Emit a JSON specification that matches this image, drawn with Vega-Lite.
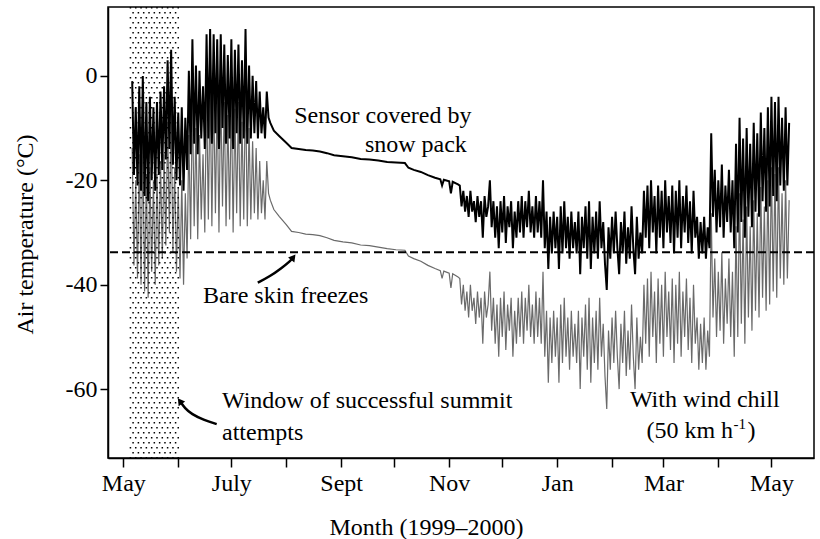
{
"$schema":"https://vega.github.io/schema/vega-lite/v6.json",
"width":706,"height":451,
"autosize":{"type":"none"},
"padding":{"left":108,"top":7,"right":6,"bottom":81},
"background":"white",
"config":{
 "font":"Liberation Serif",
 "view":{"stroke":"black","strokeWidth":1.5},
 "axis":{"domainColor":"black","domainWidth":1.5,"tickColor":"black","tickWidth":1.5,"labelColor":"black","titleColor":"black","labelFont":"Liberation Serif","titleFont":"Liberation Serif","labelFontSize":24,"titleFontSize":24,"titleFontWeight":"normal","grid":false}
},
"datasets":{
"temps":[
{"date":"1999-05-06","air":-1,"chill":-13.8},
{"date":"1999-05-07","air":-19,"chill":-36.3},
{"date":"1999-05-08","air":-6,"chill":-20},
{"date":"1999-05-09","air":-21,"chill":-38.8},
{"date":"1999-05-10","air":-2,"chill":-15},
{"date":"1999-05-11","air":-22,"chill":-40},
{"date":"1999-05-12","air":0,"chill":-12.5},
{"date":"1999-05-13","air":-23,"chill":-41.3},
{"date":"1999-05-14","air":-5,"chill":-18.8},
{"date":"1999-05-15","air":-24,"chill":-42.5},
{"date":"1999-05-16","air":-4,"chill":-17.5},
{"date":"1999-05-17","air":-20,"chill":-37.5},
{"date":"1999-05-18","air":-6,"chill":-20},
{"date":"1999-05-19","air":-22,"chill":-40},
{"date":"1999-05-20","air":-5,"chill":-18.8},
{"date":"1999-05-21","air":-19,"chill":-36.3},
{"date":"1999-05-22","air":-3,"chill":-16.3},
{"date":"1999-05-23","air":-18,"chill":-35},
{"date":"1999-05-24","air":-2,"chill":-15},
{"date":"1999-05-25","air":-16,"chill":-32.5},
{"date":"1999-05-26","air":3,"chill":-8.8},
{"date":"1999-05-27","air":-14,"chill":-30},
{"date":"1999-05-28","air":5,"chill":-6.3},
{"date":"1999-05-29","air":-17,"chill":-33.8},
{"date":"1999-05-30","air":-4,"chill":-17.5},
{"date":"1999-05-31","air":-20,"chill":-37.5},
{"date":"1999-06-01","air":-7,"chill":-21.3},
{"date":"1999-06-02","air":-21,"chill":-38.8},
{"date":"1999-06-03","air":-6,"chill":-20},
{"date":"1999-06-04","air":-22,"chill":-40},
{"date":"1999-06-05","air":-8,"chill":-22.5},
{"date":"1999-06-06","air":-18,"chill":-35},
{"date":"1999-06-07","air":1,"chill":-11.3},
{"date":"1999-06-08","air":-15,"chill":-31.3},
{"date":"1999-06-09","air":7,"chill":-3.8},
{"date":"1999-06-10","air":-13,"chill":-28.8},
{"date":"1999-06-11","air":2,"chill":-10},
{"date":"1999-06-12","air":-15,"chill":-31.3},
{"date":"1999-06-13","air":1,"chill":-11.3},
{"date":"1999-06-14","air":-12,"chill":-27.5},
{"date":"1999-06-15","air":-2,"chill":-15},
{"date":"1999-06-16","air":-14,"chill":-30},
{"date":"1999-06-17","air":8,"chill":-2.5},
{"date":"1999-06-18","air":-12,"chill":-27.5},
{"date":"1999-06-19","air":9,"chill":-1.3},
{"date":"1999-06-20","air":-13,"chill":-28.8},
{"date":"1999-06-21","air":8,"chill":-2.5},
{"date":"1999-06-22","air":-11,"chill":-26.3},
{"date":"1999-06-23","air":7,"chill":-3.8},
{"date":"1999-06-24","air":-14,"chill":-30},
{"date":"1999-06-25","air":8,"chill":-2.5},
{"date":"1999-06-26","air":-10,"chill":-25},
{"date":"1999-06-27","air":6,"chill":-5},
{"date":"1999-06-28","air":-13,"chill":-28.8},
{"date":"1999-06-29","air":4,"chill":-7.5},
{"date":"1999-06-30","air":-12,"chill":-27.5},
{"date":"1999-07-01","air":7,"chill":-3.8},
{"date":"1999-07-02","air":-14,"chill":-30},
{"date":"1999-07-03","air":5,"chill":-6.3},
{"date":"1999-07-04","air":-11,"chill":-26.3},
{"date":"1999-07-05","air":6,"chill":-5},
{"date":"1999-07-06","air":-13,"chill":-28.8},
{"date":"1999-07-07","air":3,"chill":-8.8},
{"date":"1999-07-08","air":-12,"chill":-27.5},
{"date":"1999-07-09","air":9,"chill":-1.3},
{"date":"1999-07-10","air":-13,"chill":-28.8},
{"date":"1999-07-11","air":2,"chill":-10},
{"date":"1999-07-12","air":-12,"chill":-27.5},
{"date":"1999-07-13","air":0,"chill":-12.5},
{"date":"1999-07-14","air":-11,"chill":-26.3},
{"date":"1999-07-15","air":-1,"chill":-13.8},
{"date":"1999-07-16","air":-12,"chill":-27.5},
{"date":"1999-07-17","air":-3,"chill":-16.3},
{"date":"1999-07-18","air":-11,"chill":-26.3},
{"date":"1999-07-19","air":-6,"chill":-20},
{"date":"1999-07-20","air":-12,"chill":-27.5},
{"date":"1999-07-21","air":-3,"chill":-16.3},
{"date":"1999-07-22","air":-8,"chill":-22.5},
{"date":"1999-07-23","air":-9,"chill":-23.8},
{"date":"1999-07-25","air":-10.5,"chill":-25.6},
{"date":"1999-07-28","air":-11.5,"chill":-26.9},
{"date":"1999-08-01","air":-12.8,"chill":-28.5},
{"date":"1999-08-04","air":-13.8,"chill":-29.8},
{"date":"1999-08-08","air":-14,"chill":-30},
{"date":"1999-08-12","air":-14.2,"chill":-30.3},
{"date":"1999-08-16","air":-14.3,"chill":-30.4},
{"date":"1999-08-20","air":-14.5,"chill":-30.6},
{"date":"1999-08-24","air":-14.8,"chill":-31},
{"date":"1999-08-28","air":-15.2,"chill":-31.5},
{"date":"1999-09-02","air":-15.4,"chill":-31.8},
{"date":"1999-09-07","air":-15.6,"chill":-32},
{"date":"1999-09-12","air":-15.9,"chill":-32.4},
{"date":"1999-09-17","air":-16,"chill":-32.5},
{"date":"1999-09-22","air":-16.2,"chill":-32.8},
{"date":"1999-09-27","air":-16.5,"chill":-33.1},
{"date":"1999-10-02","air":-16.6,"chill":-33.3},
{"date":"1999-10-07","air":-16.7,"chill":-33.4},
{"date":"1999-10-09","air":-17.6,"chill":-34.5},
{"date":"1999-10-12","air":-18,"chill":-35},
{"date":"1999-10-16","air":-18.4,"chill":-35.5},
{"date":"1999-10-20","air":-19,"chill":-36.3},
{"date":"1999-10-24","air":-19.5,"chill":-36.9},
{"date":"1999-10-27","air":-19.8,"chill":-37.3},
{"date":"1999-10-28","air":-21,"chill":-38.8},
{"date":"1999-10-29","air":-19.9,"chill":-37.4},
{"date":"1999-11-01","air":-20.2,"chill":-37.8},
{"date":"1999-11-02","air":-22.5,"chill":-40.6},
{"date":"1999-11-03","air":-20.3,"chill":-37.9},
{"date":"1999-11-06","air":-20.8,"chill":-38.5},
{"date":"1999-11-07","air":-21,"chill":-38.8},
{"date":"1999-11-08","air":-25,"chill":-43.8},
{"date":"1999-11-09","air":-22,"chill":-40},
{"date":"1999-11-10","air":-26,"chill":-45},
{"date":"1999-11-11","air":-23,"chill":-41.3},
{"date":"1999-11-12","air":-27,"chill":-46.3},
{"date":"1999-11-13","air":-22,"chill":-40},
{"date":"1999-11-14","air":-26,"chill":-45},
{"date":"1999-11-15","air":-24,"chill":-42.5},
{"date":"1999-11-16","air":-28,"chill":-47.5},
{"date":"1999-11-17","air":-23,"chill":-41.3},
{"date":"1999-11-18","air":-27,"chill":-46.3},
{"date":"1999-11-19","air":-24,"chill":-42.5},
{"date":"1999-11-20","air":-31,"chill":-51.3},
{"date":"1999-11-21","air":-23,"chill":-41.3},
{"date":"1999-11-22","air":-27,"chill":-46.3},
{"date":"1999-11-23","air":-25,"chill":-43.8},
{"date":"1999-11-24","air":-20,"chill":-37.5},
{"date":"1999-11-25","air":-29,"chill":-48.8},
{"date":"1999-11-26","air":-24,"chill":-42.5},
{"date":"1999-11-27","air":-31,"chill":-51.3},
{"date":"1999-11-28","air":-25,"chill":-43.8},
{"date":"1999-11-29","air":-33,"chill":-53.8},
{"date":"1999-11-30","air":-24,"chill":-42.5},
{"date":"1999-12-01","air":-30,"chill":-50},
{"date":"1999-12-02","air":-23,"chill":-41.3},
{"date":"1999-12-03","air":-32,"chill":-52.5},
{"date":"1999-12-04","air":-25,"chill":-43.8},
{"date":"1999-12-05","air":-29,"chill":-48.8},
{"date":"1999-12-06","air":-24,"chill":-42.5},
{"date":"1999-12-07","air":-33,"chill":-53.8},
{"date":"1999-12-08","air":-26,"chill":-45},
{"date":"1999-12-09","air":-31,"chill":-51.3},
{"date":"1999-12-10","air":-24,"chill":-42.5},
{"date":"1999-12-11","air":-30,"chill":-50},
{"date":"1999-12-12","air":-23,"chill":-41.3},
{"date":"1999-12-13","air":-31,"chill":-51.3},
{"date":"1999-12-14","air":-24,"chill":-42.5},
{"date":"1999-12-15","air":-29,"chill":-48.8},
{"date":"1999-12-16","air":-22,"chill":-40},
{"date":"1999-12-17","air":-30,"chill":-50},
{"date":"1999-12-18","air":-25,"chill":-43.8},
{"date":"1999-12-19","air":-31,"chill":-51.3},
{"date":"1999-12-20","air":-23,"chill":-41.3},
{"date":"1999-12-21","air":-30,"chill":-50},
{"date":"1999-12-22","air":-24,"chill":-42.5},
{"date":"1999-12-23","air":-31,"chill":-51.3},
{"date":"1999-12-24","air":-20,"chill":-37.5},
{"date":"1999-12-25","air":-33,"chill":-53.8},
{"date":"1999-12-26","air":-26,"chill":-45},
{"date":"1999-12-27","air":-37,"chill":-58.8},
{"date":"1999-12-28","air":-27,"chill":-46.3},
{"date":"1999-12-29","air":-34,"chill":-55},
{"date":"1999-12-30","air":-26,"chill":-45},
{"date":"1999-12-31","air":-33,"chill":-53.8},
{"date":"2000-01-01","air":-27,"chill":-46.3},
{"date":"2000-01-02","air":-37,"chill":-58.8},
{"date":"2000-01-03","air":-25,"chill":-43.8},
{"date":"2000-01-04","air":-34,"chill":-55},
{"date":"2000-01-05","air":-24,"chill":-42.5},
{"date":"2000-01-06","air":-33,"chill":-53.8},
{"date":"2000-01-07","air":-27,"chill":-46.3},
{"date":"2000-01-08","air":-35,"chill":-56.3},
{"date":"2000-01-09","air":-26,"chill":-45},
{"date":"2000-01-10","air":-33,"chill":-53.8},
{"date":"2000-01-11","air":-28,"chill":-47.5},
{"date":"2000-01-12","air":-34,"chill":-55},
{"date":"2000-01-13","air":-26,"chill":-45},
{"date":"2000-01-14","air":-38,"chill":-60},
{"date":"2000-01-15","air":-27,"chill":-46.3},
{"date":"2000-01-16","air":-33,"chill":-53.8},
{"date":"2000-01-17","air":-25,"chill":-43.8},
{"date":"2000-01-18","air":-35,"chill":-56.3},
{"date":"2000-01-19","air":-24,"chill":-42.5},
{"date":"2000-01-20","air":-37,"chill":-58.8},
{"date":"2000-01-21","air":-27,"chill":-46.3},
{"date":"2000-01-22","air":-34,"chill":-55},
{"date":"2000-01-23","air":-26,"chill":-45},
{"date":"2000-01-24","air":-35,"chill":-56.3},
{"date":"2000-01-25","air":-24,"chill":-42.5},
{"date":"2000-01-26","air":-33,"chill":-53.8},
{"date":"2000-01-27","air":-28,"chill":-47.5},
{"date":"2000-01-28","air":-36,"chill":-57.5},
{"date":"2000-01-29","air":-41,"chill":-63.8},
{"date":"2000-01-30","air":-29,"chill":-48.8},
{"date":"2000-01-31","air":-35,"chill":-56.3},
{"date":"2000-02-01","air":-27,"chill":-46.3},
{"date":"2000-02-02","air":-34,"chill":-55},
{"date":"2000-02-03","air":-26,"chill":-45},
{"date":"2000-02-04","air":-33,"chill":-53.8},
{"date":"2000-02-05","air":-38,"chill":-60},
{"date":"2000-02-06","air":-28,"chill":-47.5},
{"date":"2000-02-07","air":-34,"chill":-55},
{"date":"2000-02-08","air":-26,"chill":-45},
{"date":"2000-02-09","air":-36,"chill":-57.5},
{"date":"2000-02-10","air":-29,"chill":-48.8},
{"date":"2000-02-11","air":-35,"chill":-56.3},
{"date":"2000-02-12","air":-25,"chill":-43.8},
{"date":"2000-02-13","air":-33,"chill":-53.8},
{"date":"2000-02-14","air":-38,"chill":-60},
{"date":"2000-02-15","air":-27,"chill":-46.3},
{"date":"2000-02-16","air":-35,"chill":-56.3},
{"date":"2000-02-17","air":-30,"chill":-50},
{"date":"2000-02-18","air":-34,"chill":-55},
{"date":"2000-02-19","air":-22,"chill":-40},
{"date":"2000-02-20","air":-31,"chill":-51.3},
{"date":"2000-02-21","air":-21,"chill":-38.8},
{"date":"2000-02-22","air":-33,"chill":-53.8},
{"date":"2000-02-23","air":-20,"chill":-37.5},
{"date":"2000-02-24","air":-30,"chill":-50},
{"date":"2000-02-25","air":-23,"chill":-41.3},
{"date":"2000-02-26","air":-34,"chill":-55},
{"date":"2000-02-27","air":-21,"chill":-38.8},
{"date":"2000-02-28","air":-31,"chill":-51.3},
{"date":"2000-02-29","air":-22,"chill":-40},
{"date":"2000-03-01","air":-33,"chill":-53.8},
{"date":"2000-03-02","air":-20,"chill":-37.5},
{"date":"2000-03-03","air":-30,"chill":-50},
{"date":"2000-03-04","air":-23,"chill":-41.3},
{"date":"2000-03-05","air":-32,"chill":-52.5},
{"date":"2000-03-06","air":-21,"chill":-38.8},
{"date":"2000-03-07","air":-34,"chill":-55},
{"date":"2000-03-08","air":-22,"chill":-40},
{"date":"2000-03-09","air":-31,"chill":-51.3},
{"date":"2000-03-10","air":-20,"chill":-37.5},
{"date":"2000-03-11","air":-33,"chill":-53.8},
{"date":"2000-03-12","air":-23,"chill":-41.3},
{"date":"2000-03-13","air":-30,"chill":-50},
{"date":"2000-03-14","air":-21,"chill":-38.8},
{"date":"2000-03-15","air":-32,"chill":-52.5},
{"date":"2000-03-16","air":-24,"chill":-42.5},
{"date":"2000-03-17","air":-34,"chill":-55},
{"date":"2000-03-18","air":-22,"chill":-40},
{"date":"2000-03-19","air":-31,"chill":-51.3},
{"date":"2000-03-20","air":-27,"chill":-46.3},
{"date":"2000-03-21","air":-35,"chill":-56.3},
{"date":"2000-03-22","air":-28,"chill":-47.5},
{"date":"2000-03-23","air":-34,"chill":-55},
{"date":"2000-03-24","air":-27,"chill":-46.3},
{"date":"2000-03-25","air":-35,"chill":-56.3},
{"date":"2000-03-26","air":-29,"chill":-48.8},
{"date":"2000-03-27","air":-33,"chill":-53.8},
{"date":"2000-03-28","air":-11,"chill":-26.3},
{"date":"2000-03-29","air":-27,"chill":-46.3},
{"date":"2000-03-30","air":-18,"chill":-35},
{"date":"2000-03-31","air":-30,"chill":-50},
{"date":"2000-04-01","air":-20,"chill":-37.5},
{"date":"2000-04-02","air":-29,"chill":-48.8},
{"date":"2000-04-03","air":-17,"chill":-33.8},
{"date":"2000-04-04","air":-31,"chill":-51.3},
{"date":"2000-04-05","air":-21,"chill":-38.8},
{"date":"2000-04-06","air":-28,"chill":-47.5},
{"date":"2000-04-07","air":-18,"chill":-35},
{"date":"2000-04-08","air":-30,"chill":-50},
{"date":"2000-04-09","air":-20,"chill":-37.5},
{"date":"2000-04-10","air":-33,"chill":-53.8},
{"date":"2000-04-11","air":-13,"chill":-28.8},
{"date":"2000-04-12","air":-30,"chill":-50},
{"date":"2000-04-13","air":-8,"chill":-22.5},
{"date":"2000-04-14","air":-28,"chill":-47.5},
{"date":"2000-04-15","air":-12,"chill":-27.5},
{"date":"2000-04-16","air":-31,"chill":-51.3},
{"date":"2000-04-17","air":-10,"chill":-25},
{"date":"2000-04-18","air":-27,"chill":-46.3},
{"date":"2000-04-19","air":-13,"chill":-28.8},
{"date":"2000-04-20","air":-29,"chill":-48.8},
{"date":"2000-04-21","air":-9,"chill":-23.8},
{"date":"2000-04-22","air":-26,"chill":-45},
{"date":"2000-04-23","air":-11,"chill":-26.3},
{"date":"2000-04-24","air":-27,"chill":-46.3},
{"date":"2000-04-25","air":-7,"chill":-21.3},
{"date":"2000-04-26","air":-24,"chill":-42.5},
{"date":"2000-04-27","air":-10,"chill":-25},
{"date":"2000-04-28","air":-26,"chill":-45},
{"date":"2000-04-29","air":-6,"chill":-20},
{"date":"2000-04-30","air":-25,"chill":-43.8},
{"date":"2000-05-01","air":-4,"chill":-17.5},
{"date":"2000-05-02","air":-23,"chill":-41.3},
{"date":"2000-05-03","air":-5,"chill":-18.8},
{"date":"2000-05-04","air":-24,"chill":-42.5},
{"date":"2000-05-05","air":-4,"chill":-17.5},
{"date":"2000-05-06","air":-21,"chill":-38.8},
{"date":"2000-05-07","air":-8,"chill":-22.5},
{"date":"2000-05-08","air":-22,"chill":-40},
{"date":"2000-05-09","air":-6,"chill":-20},
{"date":"2000-05-10","air":-21,"chill":-38.8},
{"date":"2000-05-11","air":-9,"chill":-23.8}
],
"colsA":[
{"date":"1999-05-05T00:00:00Z"},{"date":"1999-05-08T00:00:00Z"},{"date":"1999-05-11T00:00:00Z"},{"date":"1999-05-14T00:00:00Z"},{"date":"1999-05-17T00:00:00Z"},{"date":"1999-05-20T00:00:00Z"},{"date":"1999-05-23T00:00:00Z"},{"date":"1999-05-26T00:00:00Z"},{"date":"1999-05-29T00:00:00Z"},{"date":"1999-06-01T00:00:00Z"}
],
"colsB":[
{"date":"1999-05-06T12:00:00Z"},{"date":"1999-05-09T12:00:00Z"},{"date":"1999-05-12T12:00:00Z"},{"date":"1999-05-15T12:00:00Z"},{"date":"1999-05-18T12:00:00Z"},{"date":"1999-05-21T12:00:00Z"},{"date":"1999-05-24T12:00:00Z"},{"date":"1999-05-27T12:00:00Z"},{"date":"1999-05-30T12:00:00Z"}
],
"arrow1":[
{"date":"1999-07-15T22:00:00Z","v":-39.6},
{"date":"1999-07-22T19:00:00Z","v":-38.4},
{"date":"1999-07-29T10:00:00Z","v":-36.8},
{"date":"1999-08-03T12:00:00Z","v":-35.4},
{"date":"1999-08-05T00:00:00Z","v":-34.73}
],
"head1":[{"date":"1999-08-05T00:00:00Z","v":-34.73}],
"arrow2":[
{"date":"1999-06-01T22:00:00Z","v":-62.3},
{"date":"1999-06-04T19:00:00Z","v":-63.7},
{"date":"1999-06-08T14:00:00Z","v":-64.8},
{"date":"1999-06-15T05:00:00Z","v":-65.9},
{"date":"1999-06-22T17:00:00Z","v":-66.7}
],
"head2":[{"date":"1999-06-01T22:00:00Z","v":-62.3}]
},
"layer":[
{
 "data":{"name":"temps"},
 "mark":{"type":"line","color":"#6a6a6a","strokeWidth":1.2},
 "encoding":{
  "x":{"field":"date","type":"temporal",
   "scale":{"type":"utc","domain":[{"year":1999,"month":4,"date":22,"hours":8,"utc":true},{"year":2000,"month":5,"date":25,"hours":1,"utc":true}]},
   "axis":{"title":"Month (1999–2000)",
    "values":[{"year":1999,"month":5,"date":1,"utc":true},{"year":1999,"month":6,"date":1,"utc":true},{"year":1999,"month":7,"date":1,"utc":true},{"year":1999,"month":8,"date":1,"utc":true},{"year":1999,"month":9,"date":1,"utc":true},{"year":1999,"month":10,"date":1,"utc":true},{"year":1999,"month":11,"date":1,"utc":true},{"year":1999,"month":12,"date":1,"utc":true},{"year":2000,"month":1,"date":1,"utc":true},{"year":2000,"month":2,"date":1,"utc":true},{"year":2000,"month":3,"date":1,"utc":true},{"year":2000,"month":4,"date":1,"utc":true},{"year":2000,"month":5,"date":1,"utc":true}],
    "labelExpr":"['Jan','','Mar','','May','','July','','Sept','','Nov',''][utcmonth(datum.value)]",
    "labelOverlap":false,"labelFlush":false,"tickSize":9,"labelPadding":4,
    "titleX":318,"titleY":76,"titleBaseline":"alphabetic","titleAlign":"center"}},
  "y":{"field":"chill","type":"quantitative",
   "scale":{"domain":[-73.2,13.2],"nice":false,"zero":false},
   "axis":{"title":"Air temperature (°C)","values":[0,-20,-40,-60],
    "labelExpr":"datum.value < 0 ? '-' + abs(datum.value) : '' + datum.value",
    "tickSize":8,"labelPadding":3,
    "titleX":-76,"titleY":227,"titleAngle":-90,"titleBaseline":"alphabetic","titleAlign":"center"}}
 }
},
{
 "data":{"name":"colsA"},
 "mark":{"type":"rule","color":"black","strokeWidth":1.5,"strokeDash":[1.5,8.5]},
 "encoding":{"x":{"field":"date","type":"temporal","title":"Month (1999–2000)"}}
},
{
 "data":{"name":"colsB"},
 "mark":{"type":"rule","color":"black","strokeWidth":1.5,"strokeDash":[1.5,8.5],"strokeDashOffset":5},
 "encoding":{"x":{"field":"date","type":"temporal","title":"Month (1999–2000)"}}
},
{
 "data":{"name":"temps"},
 "mark":{"type":"line","color":"black","strokeWidth":2},
 "encoding":{
  "x":{"field":"date","type":"temporal","title":"Month (1999–2000)"},
  "y":{"field":"air","type":"quantitative","title":"Air temperature (°C)"}
 }
},
{
 "data":{"values":[{}]},
 "mark":{"type":"rule","color":"black","strokeWidth":2,"strokeDash":[8,4]},
 "encoding":{"y":{"datum":-33.8,"type":"quantitative","title":"Air temperature (°C)"}}
},
{
 "data":{"name":"arrow1"},
 "mark":{"type":"line","color":"black","strokeWidth":2.5,"interpolate":"basis"},
 "encoding":{"x":{"field":"date","type":"temporal","title":"Month (1999–2000)"},"y":{"field":"v","type":"quantitative","title":"Air temperature (°C)"}}
},
{
 "data":{"name":"head1"},
 "mark":{"type":"point","shape":"triangle-up","angle":38,"size":64,"filled":true,"color":"black","opacity":1},
 "encoding":{"x":{"field":"date","type":"temporal","title":"Month (1999–2000)"},"y":{"field":"v","type":"quantitative","title":"Air temperature (°C)"}}
},
{
 "data":{"name":"arrow2"},
 "mark":{"type":"line","color":"black","strokeWidth":2.5,"interpolate":"basis"},
 "encoding":{"x":{"field":"date","type":"temporal","title":"Month (1999–2000)"},"y":{"field":"v","type":"quantitative","title":"Air temperature (°C)"}}
},
{
 "data":{"name":"head2"},
 "mark":{"type":"point","shape":"triangle-up","angle":-36,"size":64,"filled":true,"color":"black","opacity":1},
 "encoding":{"x":{"field":"date","type":"temporal","title":"Month (1999–2000)"},"y":{"field":"v","type":"quantitative","title":"Air temperature (°C)"}}
},
{
 "data":{"values":[{}]},
 "mark":{"type":"text","text":"Sensor covered by","align":"right","baseline":"alphabetic","font":"Liberation Serif","fontSize":24,"color":"black"},
 "encoding":{"x":{"datum":{"year":1999,"month":11,"date":13,"hours":14,"utc":true},"type":"temporal","title":"Month (1999–2000)"},"y":{"datum":-9.06,"type":"quantitative","title":"Air temperature (°C)"}}
},
{
 "data":{"values":[{}]},
 "mark":{"type":"text","text":"snow pack","align":"right","baseline":"alphabetic","font":"Liberation Serif","fontSize":24,"color":"black"},
 "encoding":{"x":{"datum":{"year":1999,"month":11,"date":11,"utc":true},"type":"temporal","title":"Month (1999–2000)"},"y":{"datum":-14.5,"type":"quantitative","title":"Air temperature (°C)"}}
},
{
 "data":{"values":[{}]},
 "mark":{"type":"text","text":"Bare skin freezes","align":"left","baseline":"alphabetic","font":"Liberation Serif","fontSize":24,"color":"black"},
 "encoding":{"x":{"datum":{"year":1999,"month":6,"date":15,"utc":true},"type":"temporal","title":"Month (1999–2000)"},"y":{"datum":-43.55,"type":"quantitative","title":"Air temperature (°C)"}}
},
{
 "data":{"values":[{}]},
 "mark":{"type":"text","text":["Window of successful summit","attempts"],"lineHeight":31.7,"align":"left","baseline":"alphabetic","font":"Liberation Serif","fontSize":24,"color":"black"},
 "encoding":{"x":{"datum":{"year":1999,"month":6,"date":25,"hours":17,"utc":true},"type":"temporal","title":"Month (1999–2000)"},"y":{"datum":-63.66,"type":"quantitative","title":"Air temperature (°C)"}}
},
{
 "data":{"values":[{}]},
 "mark":{"type":"text","text":"With wind chill","align":"center","baseline":"alphabetic","font":"Liberation Serif","fontSize":24,"color":"black"},
 "encoding":{"x":{"datum":{"year":2000,"month":3,"date":24,"hours":8,"utc":true},"type":"temporal","title":"Month (1999–2000)"},"y":{"datum":-63.35,"type":"quantitative","title":"Air temperature (°C)"}}
},
{
 "data":{"values":[{}]},
 "mark":{"type":"text","text":"(50 km h","align":"left","baseline":"alphabetic","font":"Liberation Serif","fontSize":24,"color":"black"},
 "encoding":{"x":{"datum":{"year":2000,"month":2,"date":20,"hours":10,"utc":true},"type":"temporal","title":"Month (1999–2000)"},"y":{"datum":-69.35,"type":"quantitative","title":"Air temperature (°C)"}}
},
{
 "data":{"values":[{}]},
 "mark":{"type":"text","text":"-1","align":"left","baseline":"alphabetic","font":"Liberation Serif","fontSize":15,"color":"black","dx":87,"dy":-9},
 "encoding":{"x":{"datum":{"year":2000,"month":2,"date":20,"hours":10,"utc":true},"type":"temporal","title":"Month (1999–2000)"},"y":{"datum":-69.35,"type":"quantitative","title":"Air temperature (°C)"}}
},
{
 "data":{"values":[{}]},
 "mark":{"type":"text","text":")","align":"left","baseline":"alphabetic","font":"Liberation Serif","fontSize":24,"color":"black","dx":101},
 "encoding":{"x":{"datum":{"year":2000,"month":2,"date":20,"hours":10,"utc":true},"type":"temporal","title":"Month (1999–2000)"},"y":{"datum":-69.35,"type":"quantitative","title":"Air temperature (°C)"}}
}
]
}
